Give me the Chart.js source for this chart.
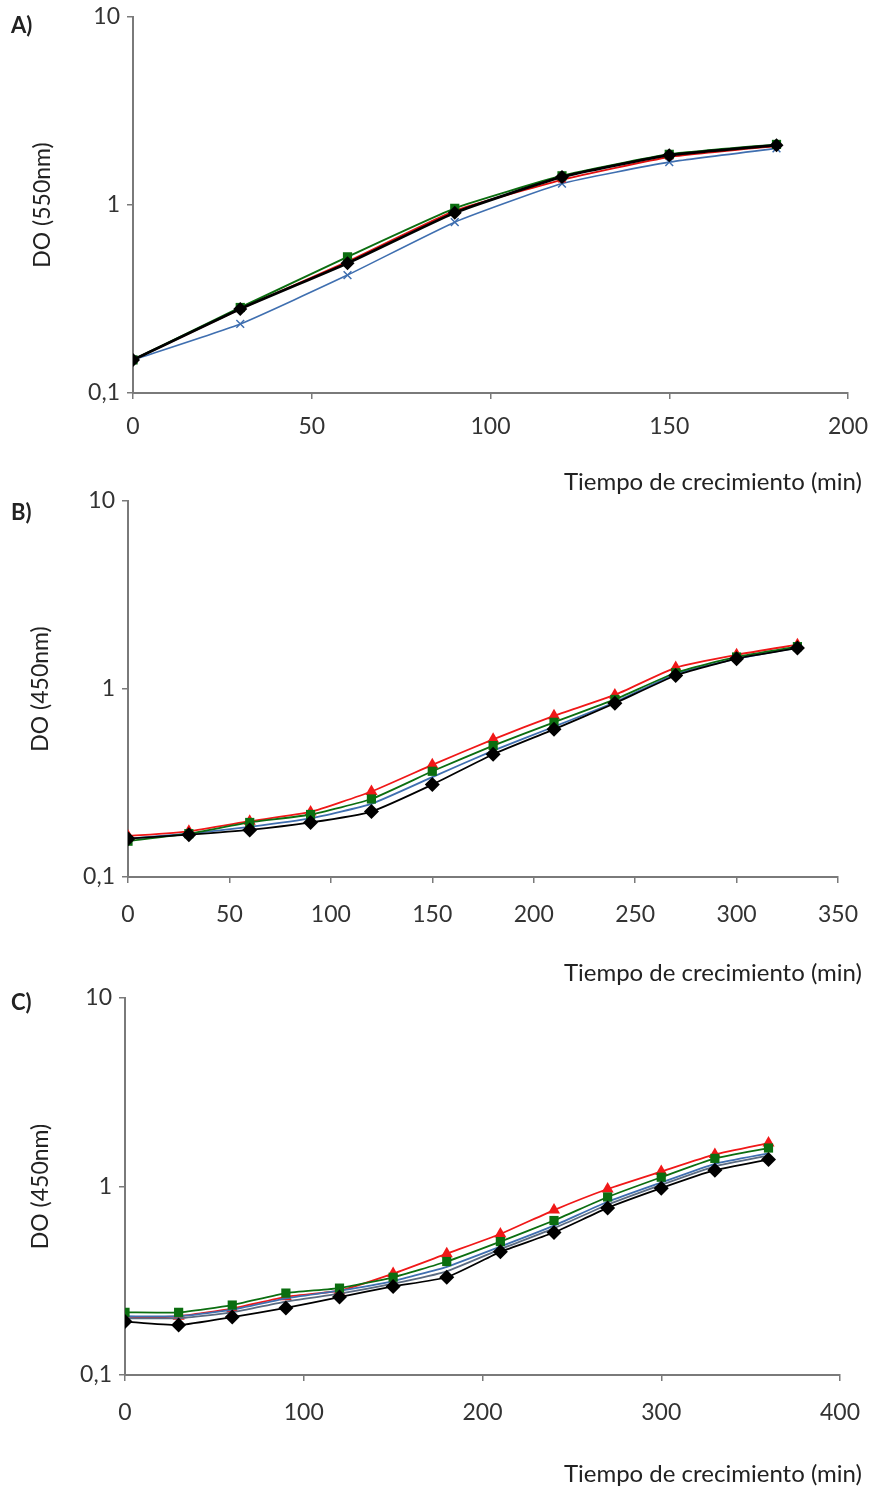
<!DOCTYPE html>
<html>
<head>
<meta charset="utf-8">
<script src="https://cdn.jsdelivr.net/npm/chart.js@4.4.0/dist/chart.umd.min.js"></script>
<style>
  body { margin: 0; background: #fff; width: 880px; height: 1488px; position: relative; overflow: hidden; font-family: Lato, sans-serif; }
  canvas { position: absolute; left: 0; }
  .letra { position: absolute; left: 11px; font-weight: bold; font-size: 22px; line-height: 22px; color: #222; z-index: 2; }
  .xtit { position: absolute; right: 18px; font-size: 24px; line-height: 24px; color: #222; white-space: nowrap; z-index: 2; }
</style>
</head>
<body>
<div class="letra" style="top:14px">A)</div>
<div class="letra" style="top:501px">B)</div>
<div class="letra" style="top:991px">C)</div>
<canvas id="panel-a" width="880" height="495" style="top:0"></canvas>
<canvas id="panel-b" width="880" height="505" style="top:480px"></canvas>
<canvas id="panel-c" width="880" height="513" style="top:975px"></canvas>
<div class="xtit" style="top:469px">Tiempo de crecimiento (min)</div>
<div class="xtit" style="top:960px">Tiempo de crecimiento (min)</div>
<div class="xtit" style="top:1461px">Tiempo de crecimiento (min)</div>
<script>
// Ticks del eje Y (escala logaritmica)
const yTicks = [0.1, 1, 10];

// Panel A - DO 550nm
const tiemposA = [0, 30, 60, 90, 120, 150, 180];
const xTicksA = [0, 50, 100, 150, 200];
const negroA = [0.15, 0.28, 0.49, 0.91, 1.41, 1.84, 2.08];
const verdeA = [0.15, 0.285, 0.53, 0.96, 1.43, 1.86, 2.1];
const rojoA = [0.15, 0.28, 0.50, 0.93, 1.36, 1.80, 2.06];
const azulA = [0.15, 0.233, 0.424, 0.81, 1.30, 1.69, 2.0];

// Panel B - DO 450nm
const tiemposB = [0, 30, 60, 90, 120, 150, 180, 210, 240, 270, 300, 330];
const xTicksB = [0, 50, 100, 150, 200, 250, 300, 350];
const rojoB = [0.165, 0.175, 0.198, 0.222, 0.285, 0.395, 0.54, 0.72, 0.93, 1.3, 1.52, 1.72];
const verdeB = [0.155, 0.17, 0.195, 0.215, 0.26, 0.365, 0.5, 0.665, 0.88, 1.22, 1.48, 1.68];
const azulB = [0.16, 0.17, 0.185, 0.205, 0.245, 0.34, 0.47, 0.63, 0.85, 1.2, 1.45, 1.66];
const negroB = [0.16, 0.168, 0.178, 0.195, 0.223, 0.31, 0.45, 0.61, 0.84, 1.18, 1.45, 1.65];

// Panel C - DO 450nm
const tiemposC = [0, 30, 60, 90, 120, 150, 180, 210, 240, 270, 300, 330, 360];
const xTicksC = [0, 100, 200, 300, 400];
const rojoC = [0.20, 0.205, 0.225, 0.26, 0.28, 0.345, 0.44, 0.56, 0.75, 0.97, 1.2, 1.48, 1.7];
const verdeC = [0.215, 0.215, 0.235, 0.272, 0.289, 0.33, 0.40, 0.51, 0.66, 0.88, 1.12, 1.41, 1.6];
const azulC = [0.205, 0.205, 0.222, 0.255, 0.28, 0.315, 0.375, 0.48, 0.62, 0.83, 1.05, 1.32, 1.5];
const grisC = [0.2, 0.2, 0.215, 0.245, 0.27, 0.305, 0.355, 0.465, 0.6, 0.8, 1.02, 1.28, 1.46];
const negroC = [0.192, 0.184, 0.203, 0.227, 0.259, 0.295, 0.33, 0.45, 0.57, 0.77, 0.98, 1.22, 1.39];

const fuente = { family: 'Lato, sans-serif', size: 23 };
const colorEje = '#7a7a7a';

function puntos(tiempos, valores) {
    return tiempos.map((t, i) => ({ x: t, y: valores[i] }));
}

function serie(tiempos, valores, color, estilo, radio, grosor) {
    return {
        data: puntos(tiempos, valores),
        borderColor: color,
        backgroundColor: color,
        borderWidth: grosor || 1.8,
        pointStyle: estilo,
        pointRadius: estilo ? radio : 0,
        pointBorderWidth: estilo === 'crossRot' ? 1.5 : 0,
        pointBorderColor: color,
        pointBackgroundColor: color,
        tension: 0.15
    };
}

function crearPanel(id, datasets, xTicks, tituloY, g) {
    const ctx = document.getElementById(id).getContext('2d');
    return new Chart(ctx, {
        type: 'line',
        data: { datasets: datasets },
        options: {
            responsive: false,
            animation: false,
            layout: { padding: { top: g.top, right: g.right, left: 0, bottom: 0 } },
            plugins: { legend: { display: false }, tooltip: { enabled: false } },
            scales: {
                x: {
                    type: 'linear',
                    min: xTicks[0],
                    max: xTicks[xTicks.length - 1],
                    afterBuildTicks: s => { s.ticks = xTicks.map(v => ({ value: v })); },
                    afterFit: s => { s.height = g.altoX; s.paddingLeft = 0; s.paddingRight = 0; },
                    ticks: { color: '#333', font: fuente, padding: g.padX, maxRotation: 0 },
                    grid: { drawOnChartArea: false, tickLength: 6, color: colorEje, lineWidth: 1.5 },
                    border: { color: colorEje, width: 2 }
                },
                y: {
                    type: 'logarithmic',
                    min: 0.1,
                    max: 10,
                    afterBuildTicks: s => { s.ticks = yTicks.map(v => ({ value: v })); },
                    afterFit: s => { s.width = g.anchoY; s.paddingTop = 0; s.paddingBottom = 0; },
                    ticks: {
                        color: '#333',
                        font: fuente,
                        padding: 7,
                        callback: v => String(v).replace('.', ',')
                    },
                    grid: { drawOnChartArea: false, tickLength: 6, color: colorEje, lineWidth: 1.5 },
                    border: { color: colorEje, width: 2 },
                    title: { display: true, text: tituloY, color: '#222', font: fuente, padding: { top: g.padTitY, bottom: 0 } }
                }
            }
        }
    });
}

crearPanel('panel-a', [
    serie(tiemposA, negroA, '#000000', 'rectRot', 7, 2.8),
    serie(tiemposA, verdeA, '#0b6e10', 'rect', 6.5, 2),
    serie(tiemposA, rojoA, '#e01010', 'triangle', 5, 1.8),
    serie(tiemposA, azulA, '#3f6fb0', 'crossRot', 5.5, 1.6)
], xTicksA, 'DO (550nm)', { top: 17, right: 32, altoX: 102, anchoY: 133, padX: 14, padTitY: 29 });

crearPanel('panel-b', [
    serie(tiemposB, negroB, '#000000', 'rectRot', 7.5, 1.8),
    serie(tiemposB, verdeB, '#0b6e10', 'rect', 6.5, 1.8),
    serie(tiemposB, azulB, '#3f6fb0', null, 0, 1.8),
    serie(tiemposB, rojoB, '#f01818', 'triangle', 7, 1.8)
], xTicksB, 'DO (450nm)', { top: 21, right: 42, altoX: 108, anchoY: 128, padX: 18, padTitY: 27 });

crearPanel('panel-c', [
    serie(tiemposC, negroC, '#000000', 'rectRot', 7.5, 1.8),
    serie(tiemposC, verdeC, '#0b6e10', 'rect', 6.5, 1.8),
    serie(tiemposC, grisC, '#5a6a80', null, 0, 1.8),
    serie(tiemposC, azulC, '#3f6fb0', null, 0, 1.8),
    serie(tiemposC, rojoC, '#f01818', 'triangle', 7, 1.8)
], xTicksC, 'DO (450nm)', { top: 23, right: 40, altoX: 113, anchoY: 125, padX: 18, padTitY: 27 });
</script>
</body>
</html>
